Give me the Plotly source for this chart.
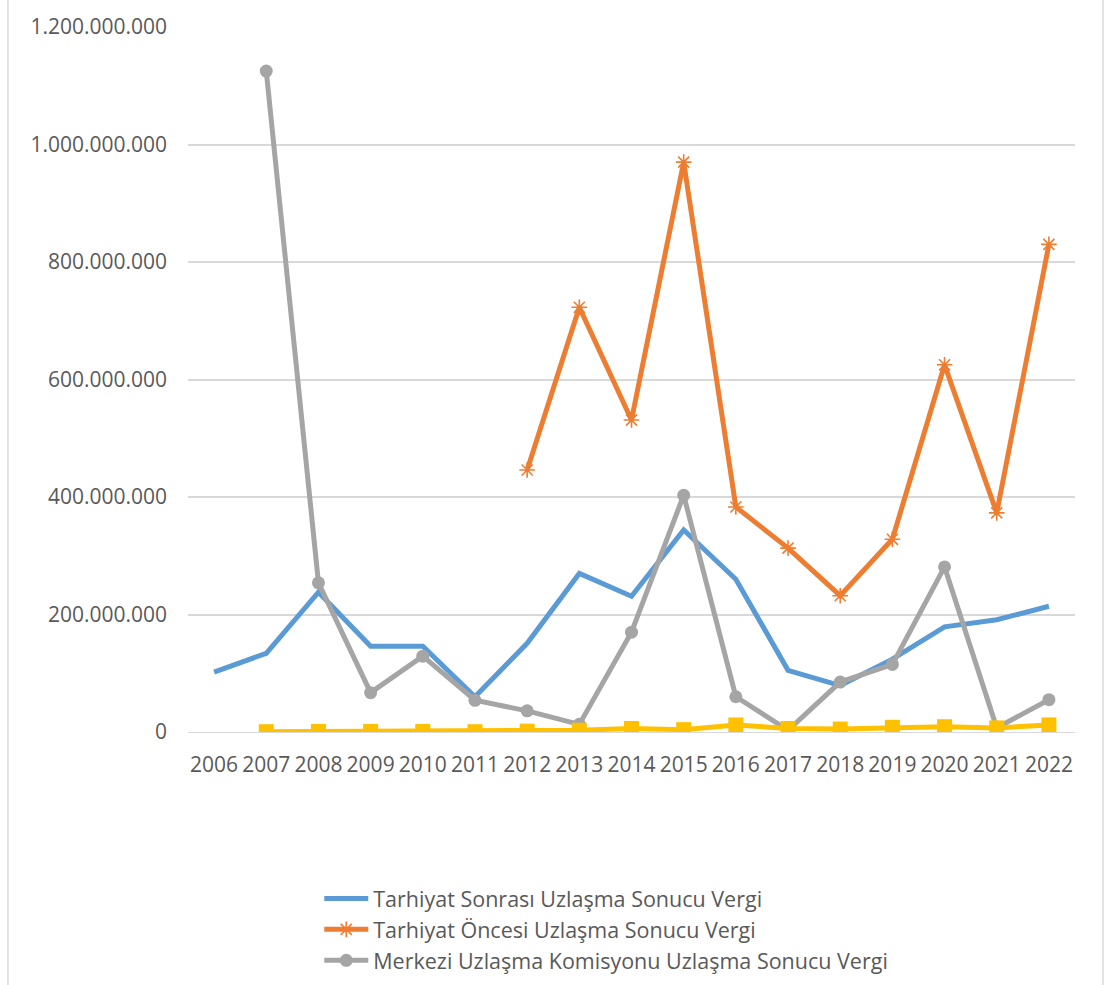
import plotly.graph_objects as go

# Yıllar ve uzlaşma sonucu vergi tutarları (TL)
years = [str(y) for y in range(2006, 2023)]

tarhiyat_sonrasi = [102e6, 134e6, 238e6, 146e6, 146e6, 60e6, 151e6, 270e6, 231e6,
                    344e6, 260e6, 105e6, 79e6, 124e6, 179e6, 191e6, 214e6]

tarhiyat_oncesi = [None, None, None, None, None, None, 446e6, 723e6, 531e6,
                   970e6, 383e6, 313e6, 232e6, 328e6, 625e6, 373e6, 830e6]

merkezi = [None, 1125e6, 254e6, 67e6, 129e6, 54e6, 36e6, 13e6, 170e6,
           403e6, 60e6, 3e6, 85e6, 115e6, 281e6, 7e6, 55e6]

diger = [None, 0.5e6, 1e6, 1e6, 1e6, 0.5e6, 1.5e6, 3e6, 6e6,
         4e6, 12e6, 6e6, 5e6, 8e6, 9e6, 7e6, 12e6]

y_ticks = [0, 200e6, 400e6, 600e6, 800e6, 1000e6, 1200e6]

FONT = "Open Sans"
TXT = "#595959"
GRID = "#d9d9d9"

fig = go.Figure()

fig.add_trace(go.Scatter(
    x=years, y=tarhiyat_sonrasi, name="Tarhiyat Sonrası Uzlaşma Sonucu Vergi",
    mode="lines", line=dict(color="#5B9BD5", width=5)))

fig.add_trace(go.Scatter(
    x=years, y=tarhiyat_oncesi, name="Tarhiyat Öncesi Uzlaşma Sonucu Vergi",
    mode="lines+markers", line=dict(color="#ED7D31", width=5),
    marker=dict(symbol="asterisk-open", size=13, color="#ED7D31",
                line=dict(color="#ED7D31", width=1.6))))

fig.add_trace(go.Scatter(
    x=years, y=merkezi, name="Merkezi Uzlaşma Komisyonu Uzlaşma Sonucu Vergi",
    mode="lines+markers", line=dict(color="#A5A5A5", width=5),
    marker=dict(symbol="circle", size=13, color="#A5A5A5")))

fig.add_trace(go.Scatter(
    x=years, y=diger, name="Diğer", showlegend=False,
    mode="lines+markers", line=dict(color="#FFC000", width=5),
    marker=dict(symbol="square", size=15, color="#FFC000")))

# chart area outline (left and right edges)
for xv in (-0.203, 1.0315):
    fig.add_shape(type="line", xref="paper", yref="paper",
                  x0=xv, x1=xv, y0=-0.4, y1=1.1,
                  line=dict(color="#d9d9d9", width=1.5))

fig.update_layout(
    width=1105, height=985,
    margin=dict(l=188, r=30, t=27, b=253, autoexpand=False),
    paper_bgcolor="white", plot_bgcolor="white",
    separators=",.",
    font=dict(family=FONT, size=21, color=TXT),
    legend=dict(x=0.148, y=-0.207, xanchor="left", yanchor="top",
                orientation="v", itemwidth=44, tracegroupgap=0,
                font=dict(family=FONT, size=21.5, color=TXT),
                bgcolor="rgba(0,0,0,0)"),
    xaxis=dict(type="category", showgrid=False, showline=True,
               linecolor=GRID, linewidth=1, ticks="",
               ticklabelstandoff=14, range=[-0.5, 16.5], automargin=False,
               tickfont=dict(family=FONT, size=21, color=TXT)),
    yaxis=dict(range=[0, 1200e6], tickvals=y_ticks, tickformat=",d",
               showgrid=True, gridcolor=GRID, gridwidth=1.5,
               zeroline=False, showline=False, ticks="",
               ticklabelstandoff=20, automargin=False,
               tickfont=dict(family=FONT, size=21, color=TXT)),
)

fig.write_html("out.html")
